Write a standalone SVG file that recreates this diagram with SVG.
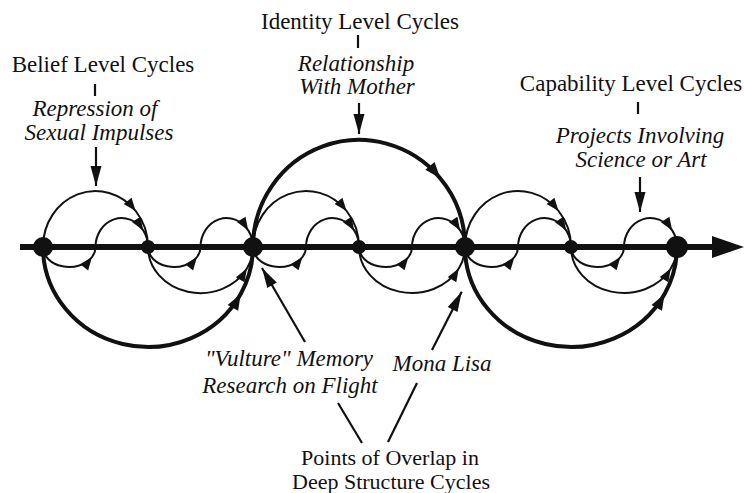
<svg xmlns="http://www.w3.org/2000/svg" width="744" height="493" viewBox="0 0 744 493">
<style>
text{font-family:"Liberation Serif","Times New Roman",serif;font-size:23px;fill:#111;text-anchor:middle}
.it{font-style:italic}
.sm{font-size:22px}
.thin{fill:none;stroke:#111;stroke-width:2;marker-end:url(#ah)}
.thick{fill:none;stroke:#111;stroke-width:4;marker-end:url(#ahb)}
.lab{fill:none;stroke:#111;stroke-width:2.2}
.arr{marker-end:url(#ahl)}
.dot{fill:#111}
</style>
<defs>
<marker id="ah" markerUnits="userSpaceOnUse" markerWidth="14" markerHeight="11" refX="13" refY="5" orient="auto" overflow="visible"><path d="M0,0 L13,5 L0,10 z" fill="#111"/></marker>
<marker id="ahb" markerUnits="userSpaceOnUse" markerWidth="17" markerHeight="13" refX="16" refY="6" orient="auto" overflow="visible"><path d="M0,0 L16,6 L0,12 z" fill="#111"/></marker>
<marker id="ahl" markerUnits="userSpaceOnUse" markerWidth="21" markerHeight="11" refX="20" refY="5.5" orient="auto" overflow="visible"><path d="M0,0 L20,5.5 L0,11 z" fill="#111"/></marker>
</defs>
<rect width="744" height="493" fill="#fff"/>

<g id="axis">
<line x1="20" y1="247" x2="715" y2="247" stroke="#111" stroke-width="6"/>
<polygon points="712,236 744,247 712,258" fill="#111"/>
</g>

<g id="connectors">
<path class="thin" d="M135.7,211 A52.5,56 0 0,1 148,247 M43,247 A52.5,56 0 0,1 135.7,211"/>
<path class="thin" d="M92,257 A26.25,20 0 0,0 95.5,247 M43,247 A26.25,20 0 0,0 92,257"/>
<path class="thin" d="M143.25,230.4 A26.25,29 0 0,1 148,247 M95.5,247 A26.25,29 0 0,1 143.25,230.4"/>
<path class="thin" d="M246.9,268.6 A52.5,46 0 0,0 253,247 M148,247 A52.5,46 0 0,0 246.9,268.6"/>
<path class="thin" d="M196.98,257 A26.25,20 0 0,0 200.5,247 M148,247 A26.25,20 0 0,0 196.98,257"/>
<path class="thin" d="M248.25,230.4 A26.25,29 0 0,1 253,247 M200.5,247 A26.25,29 0 0,1 248.25,230.4"/>
<path class="thick" d="M240.7,293.9 A105,100 0 0,0 253,247 M43,247 A105,100 0 0,0 240.7,293.9"/>

<path class="thin" d="M346.6,211 A53,56 0 0,1 359,247 M253,247 A53,56 0 0,1 346.6,211"/>
<path class="thin" d="M302.45,257 A26.5,20 0 0,0 306,247 M253,247 A26.5,20 0 0,0 302.45,257"/>
<path class="thin" d="M354.2,230.4 A26.5,29 0 0,1 359,247 M306,247 A26.5,29 0 0,1 354.2,230.4"/>
<path class="thin" d="M458.8,268.6 A53,46 0 0,0 465,247 M359,247 A53,46 0 0,0 458.8,268.6"/>
<path class="thin" d="M408.45,257 A26.5,20 0 0,0 412,247 M359,247 A26.5,20 0 0,0 408.45,257"/>
<path class="thin" d="M460.2,230.4 A26.5,29 0 0,1 465,247 M412,247 A26.5,29 0 0,1 460.2,230.4"/>
<path class="thick" d="M440.2,178.2 A106,107 0 0,1 465,247 M253,247 A106,107 0 0,1 440.2,178.2"/>

<path class="thin" d="M558.6,211 A53,56 0 0,1 571,247 M465,247 A53,56 0 0,1 558.6,211"/>
<path class="thin" d="M514.45,257 A26.5,20 0 0,0 518,247 M465,247 A26.5,20 0 0,0 514.45,257"/>
<path class="thin" d="M566.2,230.4 A26.5,29 0 0,1 571,247 M518,247 A26.5,29 0 0,1 566.2,230.4"/>
<path class="thin" d="M670.8,268.6 A53,46 0 0,0 677,247 M571,247 A53,46 0 0,0 670.8,268.6"/>
<path class="thin" d="M620.45,257 A26.5,20 0 0,0 624,247 M571,247 A26.5,20 0 0,0 620.45,257"/>
<path class="thin" d="M672.2,230.4 A26.5,29 0 0,1 677,247 M624,247 A26.5,29 0 0,1 672.2,230.4"/>
<path class="thick" d="M664.6,293.9 A106,100 0 0,0 677,247 M465,247 A106,100 0 0,0 664.6,293.9"/>

<line class="lab arr" x1="96" y1="147" x2="96" y2="186"/>
<line class="lab arr" x1="359" y1="103" x2="359" y2="134"/>
<line class="lab arr" x1="640" y1="177" x2="640" y2="212"/>
<line class="lab arr" x1="305" y1="342" x2="262" y2="268"/>
<line class="lab arr" x1="432" y1="350" x2="461.7" y2="291.7"/>
<line class="lab" x1="338" y1="403" x2="362" y2="443"/>
<line class="lab" x1="417" y1="383" x2="388" y2="442"/>
<line class="lab" x1="95" y1="84" x2="95" y2="96"/>
<line class="lab" x1="358" y1="35" x2="358" y2="48"/>
<line class="lab" x1="638" y1="102" x2="638" y2="114"/>
</g>

<g id="node-a"><circle class="dot" cx="43" cy="247" r="10"/></g>
<g id="node-a2"><circle class="dot" cx="148" cy="247" r="7"/></g>
<g id="node-b"><circle class="dot" cx="253" cy="247" r="10"/></g>
<g id="node-b2"><circle class="dot" cx="359" cy="247" r="7"/></g>
<g id="node-c"><circle class="dot" cx="465" cy="247" r="10"/></g>
<g id="node-c2"><circle class="dot" cx="571" cy="247" r="7"/></g>
<g id="node-d"><circle class="dot" cx="677" cy="247" r="11"/></g>

<g id="label-belief">
<text x="103" y="72">Belief Level Cycles</text>
<text class="it" x="95" y="116">Repression of</text>
<text class="it" x="99" y="140">Sexual Impulses</text>
</g>
<g id="label-identity">
<text x="360" y="29">Identity Level Cycles</text>
<text class="it" x="356" y="71">Relationship</text>
<text class="it" x="357" y="94">With Mother</text>
</g>
<g id="label-capability">
<text x="631" y="91">Capability Level Cycles</text>
<text class="it" x="640" y="143">Projects Involving</text>
<text class="it" x="641" y="167">Science or Art</text>
</g>
<g id="label-vulture">
<text class="it" x="289" y="366">"Vulture" Memory</text>
<text class="it" x="290" y="393">Research on Flight</text>
</g>
<g id="label-mona">
<text class="it" x="442" y="371">Mona Lisa</text>
</g>
<g id="label-overlap">
<text class="sm" x="390" y="465">Points of Overlap in</text>
<text class="sm" x="391" y="489">Deep Structure Cycles</text>
</g>
</svg>
